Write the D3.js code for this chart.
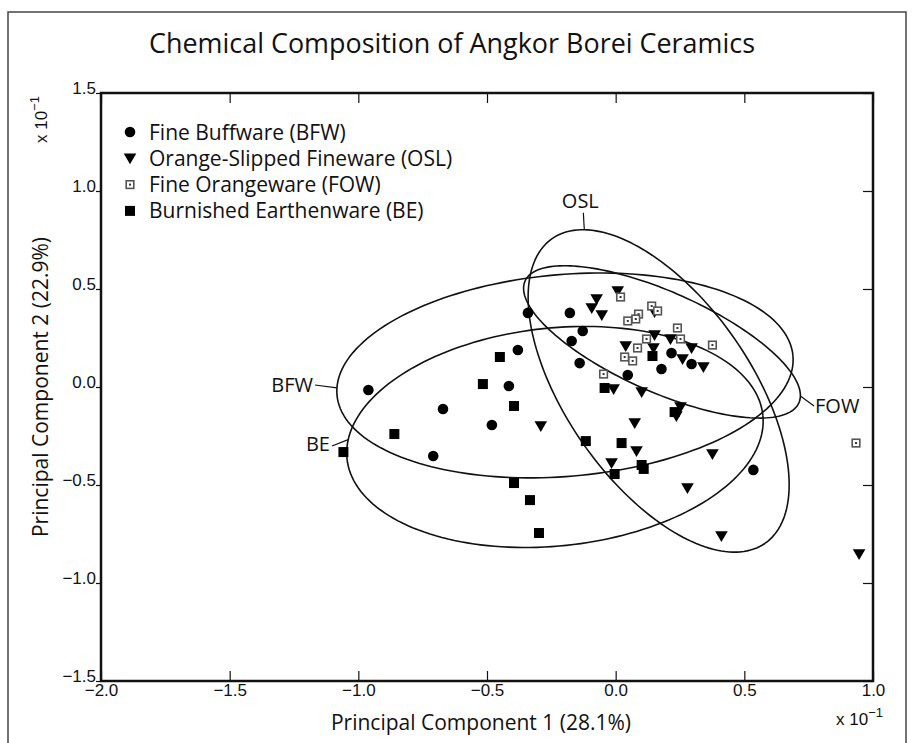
<!DOCTYPE html>
<html><head><meta charset="utf-8">
<script src="https://cdn.jsdelivr.net/npm/d3@7"></script>
<style>body{margin:0;background:#fff}svg{display:block}</style>
</head><body>
<svg id="c" width="912" height="743"></svg>
<script>
// ---- data (values in units of 10^-1) ----
const xTicks = [-2.0, -1.5, -1.0, -0.5, 0.0, 0.5, 1.0];
const yTicks = [-1.5, -1.0, -0.5, 0.0, 0.5, 1.0, 1.5];
const groupNames = ["Fine Buffware (BFW)", "Orange-Slipped Fineware (OSL)", "Fine Orangeware (FOW)", "Burnished Earthenware (BE)"];
const bfwX = [-0.961,-0.671,-0.481,-0.709,-0.380,-0.415,-0.341,-0.178,-0.128,-0.171,-0.140,0.047,0.178,0.217,0.295,0.535];
const bfwY = [-0.015,-0.112,-0.194,-0.352,0.189,0.005,0.378,0.378,0.286,0.235,0.122,0.061,0.092,0.173,0.117,-0.423];
const oslX = [0.008,-0.074,-0.093,-0.054,0.151,0.151,0.213,0.039,0.147,0.295,0.260,0.341,-0.008,0.101,0.252,0.236,-0.291,0.074,0.081,-0.016,0.376,0.279,0.411,0.946];
const oslY = [0.490,0.449,0.403,0.367,0.383,0.265,0.245,0.209,0.199,0.199,0.143,0.102,-0.010,-0.026,-0.102,-0.148,-0.199,-0.184,-0.327,-0.388,-0.342,-0.515,-0.760,-0.852];
const fowX = [0.019,0.089,0.078,0.047,0.140,0.163,0.240,0.252,0.120,0.085,0.035,0.066,0.376,-0.047,0.934];
const fowY = [0.459,0.372,0.347,0.337,0.413,0.388,0.301,0.245,0.245,0.199,0.153,0.133,0.214,0.066,-0.286];
const beX = [-0.450,-0.516,-0.395,-0.860,-1.058,-0.116,0.023,-0.043,0.143,0.229,0.101,0.109,-0.004,-0.395,-0.333,-0.298];
const beY = [0.153,0.015,-0.097,-0.240,-0.332,-0.276,-0.286,-0.005,0.158,-0.128,-0.398,-0.418,-0.444,-0.490,-0.577,-0.745];
// confidence ellipses: label, centre, conjugate semi-axis vectors (data units)
const ellLabels = ["BFW", "OSL", "FOW", "BE"];
const ellCX = [-0.197, 0.167, 0.180, -0.236];
const ellCY = [0.059, -0.020, 0.230, -0.255];
const ellAX = [0.886, 0.414, 0.532, 0.808];
const ellAY = [0.0995, -0.777, -0.311, 0.111];
const ellBX = [0.0335, -0.293, -0.079, 0.044];
const ellBY = [-0.513, -0.270, -0.233, -0.553];

const svg = d3.select("#c");
const L = 101, R = 873, T = 93, B = 681;
const x = d3.scaleLinear().domain([-2, 1]).range([L, R]);
const y = d3.scaleLinear().domain([-1.5, 1.5]).range([B, T]);
const fmt = d => d3.format(".1f")(d).replace("-", "\u2212");

// outer frame
svg.append("rect").attr("x", 8).attr("y", 12).attr("width", 898).attr("height", 745)
  .attr("fill", "none").attr("stroke", "#444").attr("stroke-width", 1.5);

const labFont = "Open Sans, sans-serif";
const tickFont = "Liberation Sans, Arial, sans-serif";

// title
svg.append("text").attr("x", 452).attr("y", 53).attr("text-anchor", "middle")
  .attr("font-family", labFont).attr("font-size", 28).attr("fill", "#111")
  .attr("textLength", 606).attr("lengthAdjust", "spacingAndGlyphs")
  .text("Chemical Composition of Angkor Borei Ceramics");

// axes
const gB = svg.append("g").attr("transform", `translate(0,${B})`)
  .call(d3.axisBottom(x).tickValues(xTicks).tickFormat(fmt).tickSize(-10).tickPadding(3));
const gT = svg.append("g").attr("transform", `translate(0,${T})`)
  .call(d3.axisTop(x).tickValues(xTicks).tickFormat("").tickSize(-10));
const gL = svg.append("g").attr("transform", `translate(${L},0)`)
  .call(d3.axisLeft(y).tickValues(yTicks).tickFormat(fmt).tickSize(5).tickPadding(0));
const gR = svg.append("g").attr("transform", `translate(${R},0)`)
  .call(d3.axisRight(y).tickValues(yTicks).tickFormat("").tickSize(-10));
[gB, gT, gL, gR].forEach(g => {
  g.select(".domain").remove();
  g.selectAll(".tick line").attr("stroke", "#111").attr("stroke-width", 1.2);
  g.selectAll("text").attr("font-family", tickFont).attr("font-size", 17).attr("fill", "#111");
});
gB.selectAll("text").attr("dy", "0.72em");
gL.selectAll("text").attr("dy", "0").attr("text-anchor", "end");

// plot frame
svg.append("rect").attr("x", L).attr("y", T).attr("width", R - L).attr("height", B - T)
  .attr("fill", "none").attr("stroke", "#111").attr("stroke-width", 2.5);

// ellipses
const ellG = svg.append("g");
const ends = {};
ellLabels.forEach((lab, i) => {
  const pts = d3.range(0, 361, 2).map(t => {
    const r = t * Math.PI / 180;
    return [x(ellCX[i] + Math.cos(r) * ellAX[i] + Math.sin(r) * ellBX[i]),
            y(ellCY[i] + Math.cos(r) * ellAY[i] + Math.sin(r) * ellBY[i])];
  });
  ellG.append("path").attr("d", d3.line()(pts)).attr("fill", "none")
    .attr("stroke", "#111").attr("stroke-width", 1.6);
  ends[lab] = pts;
});
function extreme(pts, f) { return pts.reduce((a, b) => f(b) < f(a) ? b : a); }
function nearest(pts, tx, ty) { return extreme(pts, p => (p[0] - tx) ** 2 + (p[1] - ty) ** 2); }
function ellLabel(txt, tx, ty, anchor, from, to) {
  svg.append("line").attr("x1", from[0]).attr("y1", from[1]).attr("x2", to[0]).attr("y2", to[1])
    .attr("stroke", "#111").attr("stroke-width", 1.2);
  svg.append("text").attr("x", tx).attr("y", ty).attr("text-anchor", anchor)
    .attr("font-family", labFont).attr("font-size", 20).attr("fill", "#111").text(txt);
}
const pBFW = nearest(ends["BFW"], 337, 387);
ellLabel("BFW", 313, 392, "end", [315, 385], pBFW);
const pBE = nearest(ends["BE"], 349, 438);
ellLabel("BE", 330, 451, "end", [332, 446], pBE);
const pOSL = extreme(ends["OSL"], p => p[1]);
ellLabel("OSL", pOSL[0] - 4, pOSL[1] - 22, "middle", [pOSL[0] - 1, pOSL[1] - 17], pOSL);
const pFOW = extreme(ends["FOW"], p => -p[0]);
ellLabel("FOW", 815, 413, "start", pFOW, [814, 406]);

// markers
const gM = svg.append("g");
function triPath(cx, cy) { return `M${cx - 6.3},${cy - 4.8}L${cx + 6.3},${cy - 4.8}L${cx},${cy + 6}Z`; }
function circles(xs, ys) {
  xs.forEach((v, i) => gM.append("circle").attr("cx", x(v)).attr("cy", y(ys[i])).attr("r", 5.3).attr("fill", "#000"));
}
function tris(xs, ys) {
  xs.forEach((v, i) => gM.append("path").attr("d", triPath(x(v), y(ys[i]))).attr("fill", "#000"));
}
function openSq(g, cx, cy) {
  g.append("rect").attr("x", cx - 3.8).attr("y", cy - 3.8).attr("width", 7.6).attr("height", 7.6)
    .attr("fill", "#fff").attr("stroke", "#555").attr("stroke-width", 1.6);
  g.append("rect").attr("x", cx - 1).attr("y", cy - 1).attr("width", 2).attr("height", 2).attr("fill", "#333");
}
function opens(xs, ys) { xs.forEach((v, i) => openSq(gM, x(v), y(ys[i]))); }
function squares(xs, ys) {
  xs.forEach((v, i) => gM.append("rect").attr("x", x(v) - 5).attr("y", y(ys[i]) - 5).attr("width", 10).attr("height", 10).attr("fill", "#000"));
}
circles(bfwX, bfwY);
tris(oslX, oslY);
opens(fowX, fowY);
squares(beX, beY);

// legend
const legG = svg.append("g");
const legY0 = 132, legDY = 26.3;
groupNames.forEach((name, i) => {
  const cy = legY0 + i * legDY, cx = 130;
  if (i === 0) legG.append("circle").attr("cx", cx).attr("cy", cy).attr("r", 5.3).attr("fill", "#000");
  if (i === 1) legG.append("path").attr("d", triPath(cx, cy)).attr("fill", "#000");
  if (i === 2) openSq(legG, cx, cy);
  if (i === 3) legG.append("rect").attr("x", cx - 5).attr("y", cy - 5).attr("width", 10).attr("height", 10).attr("fill", "#000");
  legG.append("text").attr("x", 149).attr("y", cy + 7.5).attr("font-family", labFont)
    .attr("font-size", 21).attr("fill", "#111").text(name);
});

// axis titles
svg.append("text").attr("x", 481).attr("y", 730).attr("text-anchor", "middle")
  .attr("font-family", labFont).attr("font-size", 21).attr("fill", "#111")
  .text("Principal Component 1 (28.1%)");
svg.append("text").attr("transform", "translate(48,387) rotate(-90)").attr("text-anchor", "middle")
  .attr("font-family", labFont).attr("font-size", 21).attr("fill", "#111")
  .text("Principal Component 2 (22.9%)");

// multipliers
const mb = svg.append("text").attr("x", 836).attr("y", 725).attr("font-family", tickFont).attr("font-size", 17).attr("fill", "#111");
mb.append("tspan").text("x 10");
mb.append("tspan").attr("dy", -8).attr("font-size", 13).text("\u22121");
const ml = svg.append("text").attr("transform", "translate(47,143) rotate(-90)").attr("font-family", tickFont).attr("font-size", 17).attr("fill", "#111");
ml.append("tspan").text("x 10");
ml.append("tspan").attr("dy", -8).attr("font-size", 13).text("\u22121");
</script>
</body></html>
